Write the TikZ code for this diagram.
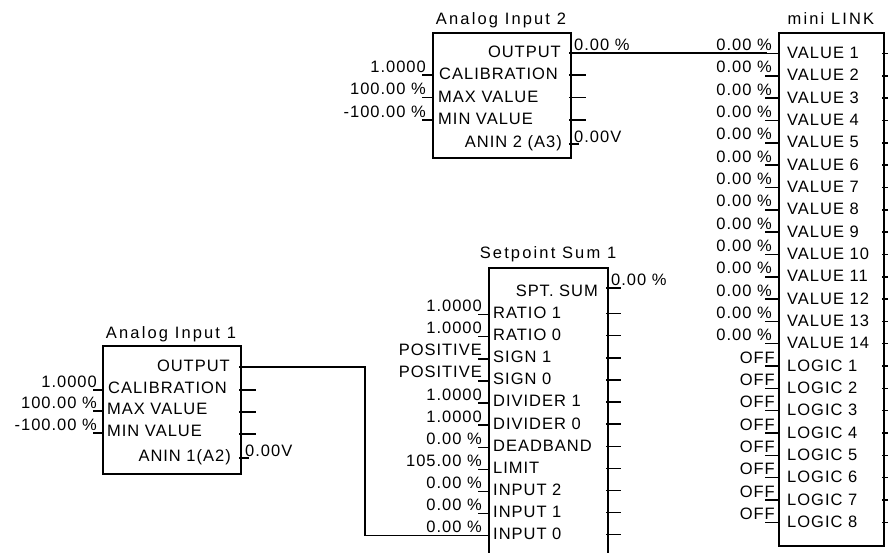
\documentclass[tikz,border=0pt]{standalone}
\usepackage{fontspec}
\setmainfont[LetterSpace=6]{Liberation Sans}
\newfontfamily\titlefont[LetterSpace=13]{Liberation Sans}
\usetikzlibrary{positioning}
\tikzset{
  wire/.style={line width=1.4pt, black, line cap=rect}
}

\begin{document}
\begin{tikzpicture}[x=1pt, y=-1pt,
    blockbox/.style={rectangle, draw=black, line width=1.6pt, fill=white, anchor=north west, inner sep=0pt},
    blocktitle/.style={font=\titlefont\fontsize{16.5}{16.5}\selectfont, inner sep=0pt, text height=11.8pt, text depth=0pt},
    pinname/.style={font=\fontsize{16.5}{16.5}\selectfont, inner sep=0pt, text height=11.8pt, text depth=0pt},
    pinvalue/.style={font=\fontsize{16.5}{16.5}\selectfont, inner sep=0pt, text height=11.8pt, text depth=0pt}
]
    \useasboundingbox (0,0) rectangle (888,552);
    \clip (0,0) rectangle (888,552);
    \fill[white] (0,0) rectangle (888,552);

    % Analog Input 2 block, top left corner at (432, 32)
    \node[blockbox, minimum width=138pt, minimum height=125pt] (ai2) at (432,32) {};
    \node[blocktitle] (ai2-title) at (501,18.5) {Analog Input 2};
    \node[pinname, anchor=east] (ai2-output) at (561,52) {OUTPUT};
    \node[pinname, anchor=west] (ai2-cal) at (439,74) {CALIBRATION};
    \node[pinname, anchor=west] (ai2-max) at (438,96.5) {MAX VALUE};
    \node[pinname, anchor=west] (ai2-min) at (438,119) {MIN VALUE};
    \node[pinname, anchor=east] (ai2-anin) at (562,142) {ANIN 2 (A3)};
    % inputs
    \foreach \ry/\val [count=\i] in {75/1.0000, 97.5/100.00 \%, 120/-100.00 \%} {
        \draw[wire] (423,\ry) -- (432,\ry);
        \node[pinvalue, anchor=base east] (ai2-in\i) at (426,\ry-3) {\val};
    }
    % outputs
    \foreach \ry in {75, 97.5, 120} {
        \draw[wire] (570,\ry) -- (585,\ry);
    }
    \draw[wire] (570,144) -- (578,144);
    \node[pinvalue, anchor=base west] (ai2-val) at (574,50) {0.00 \%};
    \node[pinvalue, anchor=base west] (ai2-volt) at (574,142) {0.00V};

    % mini LINK block, top left corner at (778, 32)
    \node[blockbox, minimum width=105pt, minimum height=513pt] (ml) at (778,32) {};
    \node[blocktitle] (ml-title) at (831,18.5) {mini LINK};
    \foreach \k in {1,...,14} {
        \pgfmathsetmacro\ry{52.5+22.33*(\k-1)}
        \node[pinname, anchor=west] (ml-value\k) at (787,\ry) {VALUE \k};
        \draw[wire] (766,\ry+1) -- (778,\ry+1);
        \draw[wire] (883,\ry+1) -- (895,\ry+1);
        \node[pinvalue, anchor=base east] (ml-vin\k) at (772,\ry-2) {0.00 \%};
    }
    \foreach \k in {1,...,8} {
        \pgfmathsetmacro\ry{52.5+22.33*(13+\k)}
        \node[pinname, anchor=west] (ml-logic\k) at (787,\ry) {LOGIC \k};
        \draw[wire] (766,\ry+1) -- (778,\ry+1);
        \draw[wire] (883,\ry+1) -- (895,\ry+1);
        \node[pinvalue, anchor=base east] (ml-lin\k) at (775,\ry-2) {OFF};
    }

    % Setpoint Sum 1 block, runs off the bottom edge
    \node[blockbox, minimum width=119pt, minimum height=300pt] (ss) at (488,267) {};
    \node[blocktitle] (ss-title) at (548,253) {Setpoint Sum 1};
    \node[pinname, anchor=east] (ss-sum) at (598,290.5) {SPT. SUM};
    \draw[wire] (607,288) -- (620,288);
    \node[pinvalue, anchor=base west] (ss-val) at (611,285) {0.00 \%};
    \foreach \pin/\val [count=\j] in {RATIO 1/1.0000, RATIO 0/1.0000, SIGN 1/POSITIVE, SIGN 0/POSITIVE,
        DIVIDER 1/1.0000, DIVIDER 0/1.0000, DEADBAND/0.00 \%, LIMIT/105.00 \%,
        INPUT 2/0.00 \%, INPUT 1/0.00 \%, INPUT 0/0.00 \%} {
        \pgfmathsetmacro\ry{290.5+22.1*\j}
        \node[pinname, anchor=west] (ss-pin\j) at (493,\ry) {\pin};
        \draw[wire] (479,\ry+2) -- (488,\ry+2);
        \draw[wire] (607,\ry+1) -- (620,\ry+1);
        \node[pinvalue, anchor=base east] (ss-in\j) at (482,\ry-1) {\val};
    }

    % Analog Input 1 block, top left corner at (102, 345)
    \node[blockbox, minimum width=138pt, minimum height=128pt] (ai1) at (102,345) {};
    \node[blocktitle] (ai1-title) at (171,333) {Analog Input 1};
    \node[pinname, anchor=east] (ai1-output) at (230,366) {OUTPUT};
    \node[pinname, anchor=west] (ai1-cal) at (108,388) {CALIBRATION};
    \node[pinname, anchor=west] (ai1-max) at (107,409) {MAX VALUE};
    \node[pinname, anchor=west] (ai1-min) at (107,431) {MIN VALUE};
    \node[pinname, anchor=east] (ai1-anin) at (231,456) {ANIN 1(A2)};
    % inputs
    \foreach \ry/\val [count=\i] in {390/1.0000, 411/100.00 \%, 433/-100.00 \%} {
        \draw[wire] (94,\ry) -- (102,\ry);
        \node[pinvalue, anchor=base east] (ai1-in\i) at (97,\ry-3) {\val};
    }
    % outputs
    \foreach \ry in {390, 412, 434} {
        \draw[wire] (240,\ry) -- (255,\ry);
    }
    \draw[wire] (240,458) -- (248,458);
    \node[pinvalue, anchor=base west] (ai1-volt) at (245,456) {0.00V};

    % Connections
    \coordinate (ai2-out) at (570,53);
    \coordinate (ml-in1) at (766,53.5);
    \draw[wire] (ai2-out) -- (ai2-out -| ml-in1);
    \coordinate (ai1-out) at (240,367);
    \coordinate (ai1-bend) at (365,367);
    \coordinate (ss-in0) at (480,535.6);
    \draw[wire] (ai1-out) -- (ai1-bend) |- (ss-in0);
\end{tikzpicture}
\end{document}
